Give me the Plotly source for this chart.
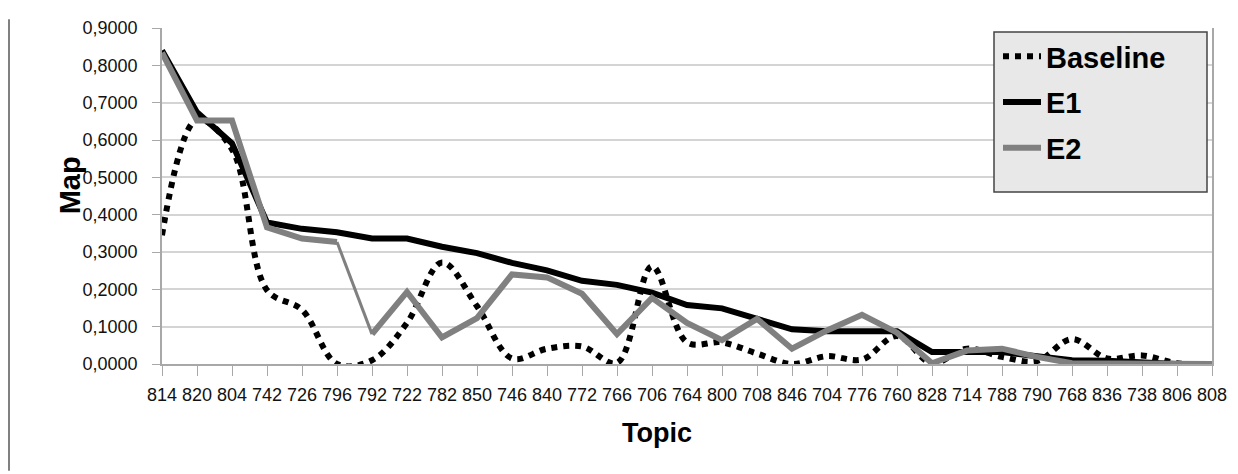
import plotly.graph_objects as go

categories = ["814", "820", "804", "742", "726", "796", "792", "722", "782", "850",
              "746", "840", "772", "766", "706", "764", "800", "708", "846", "704",
              "776", "760", "828", "714", "788", "790", "768", "836", "738", "806", "808"]

baseline = [0.345, 0.655, 0.575, 0.198, 0.145, 0.000, 0.010, 0.110, 0.272, 0.155,
            0.015, 0.041, 0.047, 0.003, 0.262, 0.058, 0.058, 0.028, 0.000, 0.021,
            0.012, 0.075, 0.002, 0.041, 0.019, 0.008, 0.067, 0.015, 0.023, 0.002, 0.000]

e1 = [0.840, 0.674, 0.591, 0.379, 0.362, 0.353, 0.336, 0.336, 0.314, 0.297,
      0.271, 0.251, 0.223, 0.212, 0.191, 0.158, 0.149, 0.123, 0.093, 0.088,
      0.088, 0.088, 0.032, 0.033, 0.032, 0.021, 0.010, 0.009, 0.003, 0.000, 0.000]

e2 = [0.834, 0.652, 0.652, 0.366, 0.336, 0.327, 0.080, 0.193, 0.071, 0.123,
      0.240, 0.232, 0.188, 0.080, 0.177, 0.110, 0.064, 0.121, 0.041, 0.090,
      0.132, 0.084, 0.002, 0.036, 0.041, 0.019, 0.002, 0.002, 0.000, 0.000, 0.000]

y_ticks = [0.0, 0.1, 0.2, 0.3, 0.4, 0.5, 0.6, 0.7, 0.8, 0.9]

FONT = "Liberation Sans, Arial, sans-serif"
GRAY = "#808080"

fig = go.Figure()

fig.add_trace(go.Scatter(
    x=categories, y=baseline, mode="lines", name="Baseline",
    line=dict(color="#000000", width=6, dash="6px,6px", shape="spline", smoothing=1),
    legendgroup="b",
))
fig.add_trace(go.Scatter(
    x=categories, y=e1, mode="lines", name="E1",
    line=dict(color="#000000", width=6),
    legendgroup="e1",
))
# E2: thin segment between 796 and 792, as in the original rendering
fig.add_trace(go.Scatter(
    x=categories[:6], y=e2[:6], mode="lines", name="E2",
    line=dict(color=GRAY, width=6), legendgroup="e2",
))
fig.add_trace(go.Scatter(
    x=categories[5:7], y=e2[5:7], mode="lines", name="E2",
    line=dict(color=GRAY, width=3), legendgroup="e2", showlegend=False,
))
fig.add_trace(go.Scatter(
    x=categories[6:], y=e2[6:], mode="lines", name="E2",
    line=dict(color=GRAY, width=6), legendgroup="e2", showlegend=False,
))

OFF = 8  # page body margin
W, H = 1230, 466
L = 162 - OFF
T = 18 - OFF
R = W - (1212 - OFF)
B = H - (364 - OFF)
pw, ph = W - L - R, H - T - B


def px(xp):
    return (xp - OFF - L) / pw


def py(yp):
    return (H - B - (yp - OFF)) / ph


fig.update_layout(
    width=W, height=H,
    margin=dict(l=L, r=R, t=T, b=B),
    paper_bgcolor="white", plot_bgcolor="white",
    separators=",.",
    font=dict(family=FONT, color="#111111"),
    showlegend=True,
    legend=dict(
        x=px(998), y=py(21), xanchor="left", yanchor="top",
        bgcolor="rgba(0,0,0,0)", borderwidth=0,
        font=dict(family=FONT, size=29, color="#000000", weight="bold"),
        tracegroupgap=5, traceorder="grouped", itemwidth=38,
    ),
    xaxis=dict(
        type="category", categoryorder="array", categoryarray=categories,
        range=[0, len(categories) - 1],
        showgrid=False, showline=True, linecolor="#a8a8a8", linewidth=1.5,
        ticks="outside", ticklen=10, tickcolor="#a8a8a8", tickwidth=1,
        tickfont=dict(family=FONT, size=18, color="#111111"),
        ticklabelstandoff=4,
        zeroline=False,
    ),
    yaxis=dict(
        range=[0, 0.9], tickvals=y_ticks, tickformat=".4f",
        showgrid=True, gridcolor="#d4d4d4", gridwidth=1.5,
        showline=True, linecolor="#a8a8a8", linewidth=1.5, mirror=True,
        ticks="outside", ticklen=8, tickcolor="#a8a8a8",
        tickfont=dict(family=FONT, size=18, color="#111111"),
        ticklabelstandoff=11,
        zeroline=False,
    ),
    shapes=[
        dict(type="rect", xref="paper", yref="paper",
             x0=px(994), x1=px(1207), y0=py(187), y1=py(22),
             fillcolor="#e8e8e8", line=dict(color="#444444", width=1.5),
             layer="above"),
        dict(type="line", xref="paper", yref="paper",
             x0=px(OFF + 1), x1=px(OFF + 1), y0=py(H + OFF), y1=py(9),
             line=dict(color="#808080", width=2)),
    ],
    annotations=[
        dict(text="Map", xref="paper", yref="paper", x=px(70), y=py(180),
             showarrow=False, textangle=-90, xanchor="center", yanchor="middle",
             font=dict(family=FONT, size=29, color="#000000", weight="bold")),
        dict(text="Topic", xref="paper", yref="paper", x=px(657), y=py(435),
             showarrow=False, xanchor="center", yanchor="middle",
             font=dict(family=FONT, size=27, color="#000000", weight="bold")),
    ],
)

fig.write_html("out.html")
